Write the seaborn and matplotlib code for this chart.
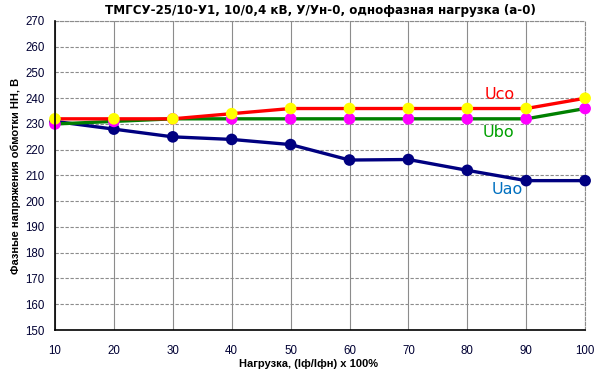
import pandas as pd
import seaborn as sns
import matplotlib.pyplot as plt

# Data
load = [10, 20, 30, 40, 50, 60, 70, 80, 90, 100]
u_ao = [231, 228, 225, 224, 222, 216, 216.2, 212, 208, 208]
u_bo = [230, 231, 232, 232, 232, 232, 232, 232, 232, 236]
u_co = [232, 232, 232, 234, 236, 236, 236, 236, 236, 240]

series = ['Uao', 'Ubo', 'Uco']
df = pd.DataFrame({
    'load': load * 3,
    'u': u_ao + u_bo + u_co,
    'phase': [s for s in series for _ in load],
})

line_colors = {'Uao': '#000080', 'Ubo': '#008000', 'Uco': '#ff0000'}
marker_colors = {'Uao': '#000080', 'Ubo': '#ff00ff', 'Uco': '#ffff00'}
label_colors = {'Uao': '#0070c0', 'Ubo': '#00a000', 'Uco': '#ff0000'}

sns.set_style("white")
plt.rcParams['font.family'] = ['Liberation Sans', 'DejaVu Sans']
plt.rcParams['text.color'] = 'black'
plt.rcParams['axes.labelcolor'] = 'black'

fig = plt.figure(figsize=(5.95, 3.71), dpi=100)
ax = fig.add_axes([0.0924, 0.1105, 0.891, 0.833])

sns.lineplot(data=df, x='load', y='u', hue='phase', palette=line_colors,
             linewidth=2.4, legend=False, ax=ax, zorder=3)
sns.scatterplot(data=df, x='load', y='u', hue='phase', palette=marker_colors,
                s=70, edgecolor='none', legend=False, ax=ax, zorder=4)
for artist in ax.lines + ax.collections:
    artist.set_clip_on(False)

ax.set_xlim(10, 100)
ax.set_ylim(150, 270)
ax.set_xticks(load)
ax.set_yticks(range(150, 271, 10))
ax.xaxis.grid(True, color='#8c8c8c', linewidth=0.8, linestyle='-')
ax.yaxis.grid(True, color='#8c8c8c', linewidth=0.8, linestyle=(0, (3, 1.5)))
ax.set_axisbelow(True)

for side in ['top', 'right']:
    ax.spines[side].set_color('#8c8c8c')
    ax.spines[side].set_linestyle((0, (3, 1.5)))
    ax.spines[side].set_linewidth(0.8)
for side in ['left', 'bottom']:
    ax.spines[side].set_color('black')
    ax.spines[side].set_linewidth(1.2)
    ax.spines[side].set_zorder(5)

ax.tick_params(axis='both', direction='out', length=4, width=1, color='black',
               labelsize=8.3, labelcolor='#000033')
ax.tick_params(axis='x', pad=7)

ax.set_xlabel('Нагрузка, (Iф/Iфн) x 100%', fontsize=8, fontweight='bold')
ax.xaxis.set_label_coords(0.478, -0.095)
ax.set_ylabel('Фазные напряжения обмотки НН, В', fontsize=8,
              fontweight='bold', labelpad=3)
ax.set_title('ТМГСУ-25/10-У1, 10/0,4 кВ, У/Ун-0, однофазная нагрузка (а-0)',
             fontsize=8.6, fontweight='bold', family=['DejaVu Sans'],
             color='black', pad=5)

ax.text(85.5, 241.5, 'Uco', color=label_colors['Uco'], fontsize=11.5,
        family=['DejaVu Sans'], ha='center', va='center')
ax.text(85.2, 226.5, 'Ubo', color=label_colors['Ubo'], fontsize=11.5,
        family=['DejaVu Sans'], ha='center', va='center')
ax.text(86.7, 204.5, 'Uao', color=label_colors['Uao'], fontsize=11.5,
        family=['DejaVu Sans'], ha='center', va='center')

plt.savefig('out.png', dpi=100)
